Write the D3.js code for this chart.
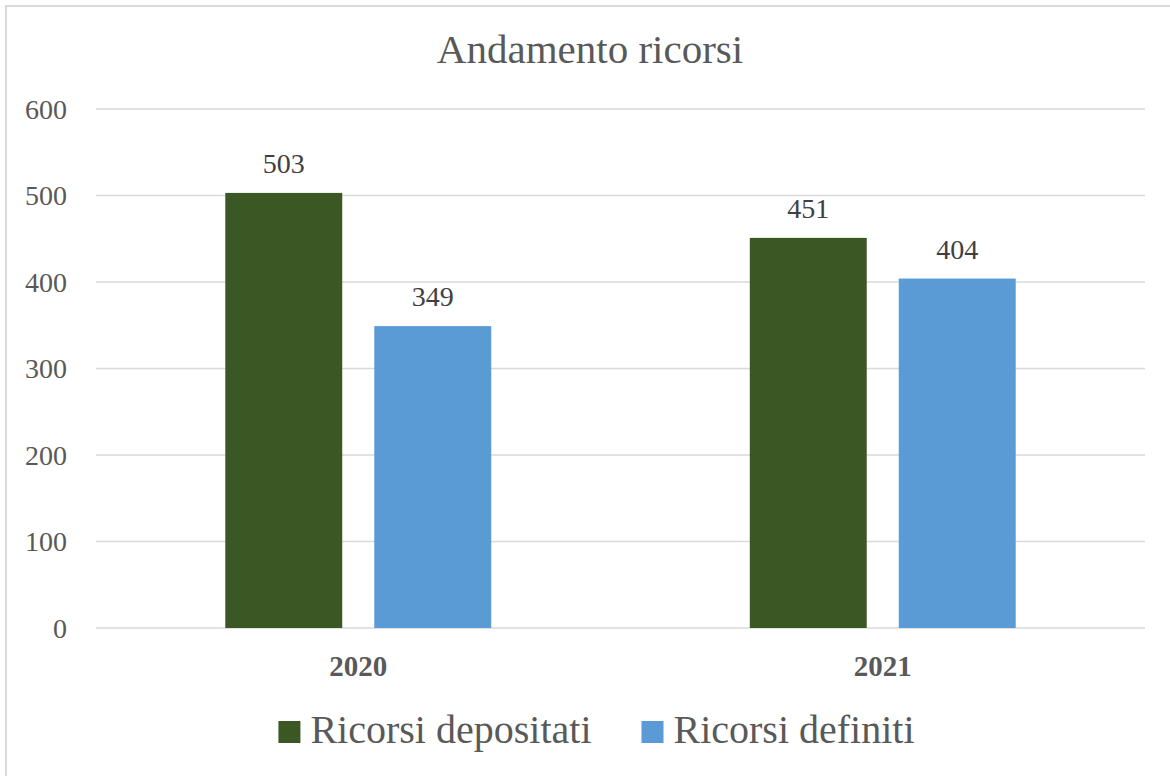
<!DOCTYPE html>
<html>
<head>
<meta charset="utf-8">
<script src="https://cdnjs.cloudflare.com/ajax/libs/d3/7.8.5/d3.min.js"></script>
<style>
  html, body { margin: 0; padding: 0; background: #fff; overflow: hidden; }
  svg { display: block; font-family: "Liberation Serif", "DejaVu Serif", serif; }
</style>
</head>
<body>
<div id="viz"></div>
<script>
// chart data
var years = ["2020", "2021"];
var seriesNames = ["Ricorsi depositati", "Ricorsi definiti"];
var depositati = [503, 451];
var definiti = [349, 404];
var yTicks = [0, 100, 200, 300, 400, 500, 600];
var colors = ["#3b5723", "#5b9bd5"];

var width = 1170, height = 776;
var plot = {left: 96, right: 1145, top: 109, bottom: 628};

var svg = d3.select("#viz").append("svg")
  .attr("width", width)
  .attr("height", height);

// chart frame (right/bottom edges fall outside the picture)
svg.append("rect")
  .attr("x", 6).attr("y", 6)
  .attr("width", 1180).attr("height", 800)
  .attr("fill", "#fff")
  .attr("stroke", "#d9d9d9")
  .attr("stroke-width", 2);

var y = d3.scaleLinear().domain([0, 600]).range([plot.bottom, plot.top]);

var x0 = d3.scaleBand()
  .domain(years)
  .range([plot.left, plot.right])
  .paddingInner(0.493)
  .paddingOuter(0.2465);

var x1 = d3.scaleBand()
  .domain(seriesNames)
  .range([0, x0.bandwidth()])
  .paddingInner(0.215);

var color = d3.scaleOrdinal().domain(seriesNames).range(colors);

// gridlines
svg.append("g").selectAll("line")
  .data(yTicks)
  .enter().append("line")
  .attr("x1", plot.left).attr("x2", plot.right)
  .attr("y1", d => y(d)).attr("y2", d => y(d))
  .attr("stroke", "#d9d9d9")
  .attr("stroke-width", 1.5);

// y tick labels
svg.append("g").selectAll("text")
  .data(yTicks)
  .enter().append("text")
  .attr("x", 67)
  .attr("y", d => y(d))
  .attr("dy", "0.35em")
  .attr("text-anchor", "end")
  .attr("fill", "#595959")
  .style("font-size", "28px")
  .text(d => d);

var rows = years.map((yr, i) => ({
  year: yr,
  values: [
    {name: seriesNames[0], value: depositati[i]},
    {name: seriesNames[1], value: definiti[i]}
  ]
}));

var groups = svg.append("g").selectAll("g")
  .data(rows)
  .enter().append("g")
  .attr("transform", d => "translate(" + x0(d.year) + ",0)");

groups.selectAll("rect")
  .data(d => d.values)
  .enter().append("rect")
  .attr("x", d => x1(d.name))
  .attr("y", d => y(d.value))
  .attr("width", x1.bandwidth())
  .attr("height", d => y(0) - y(d.value))
  .attr("fill", d => color(d.name));

// value labels
groups.selectAll("text")
  .data(d => d.values)
  .enter().append("text")
  .attr("x", d => x1(d.name) + x1.bandwidth() / 2)
  .attr("y", d => y(d.value) - 20)
  .attr("text-anchor", "middle")
  .attr("fill", "#404040")
  .style("font-size", "28px")
  .text(d => d.value);

// category labels
svg.append("g").selectAll("text")
  .data(years)
  .enter().append("text")
  .attr("x", d => x0(d) + x0.bandwidth() / 2)
  .attr("y", 676)
  .attr("text-anchor", "middle")
  .attr("fill", "#595959")
  .style("font-size", "29px")
  .style("font-weight", "bold")
  .text(d => d);

// title
svg.append("text")
  .attr("x", 590)
  .attr("y", 63)
  .attr("text-anchor", "middle")
  .attr("fill", "#595959")
  .style("font-size", "41px")
  .text("Andamento ricorsi");

// legend
var legend = svg.append("g");
var items = legend.selectAll("g")
  .data(seriesNames)
  .enter().append("g");

items.append("rect")
  .attr("width", 22).attr("height", 22)
  .attr("y", -22)
  .attr("fill", d => color(d));

items.append("text")
  .attr("x", 32)
  .attr("y", 0)
  .attr("fill", "#595959")
  .style("font-size", "40px")
  .text(d => d);

var widths = [];
items.each(function() { widths.push(this.getBBox().width); });
var gap = 50;
var total = d3.sum(widths) + gap * (widths.length - 1);
var cx = 596.5;
var start = cx - total / 2;
items.attr("transform", function(d, i) {
  var off = start + d3.sum(widths.slice(0, i)) + gap * i;
  return "translate(" + off + ",743)";
});
</script>
</body>
</html>
